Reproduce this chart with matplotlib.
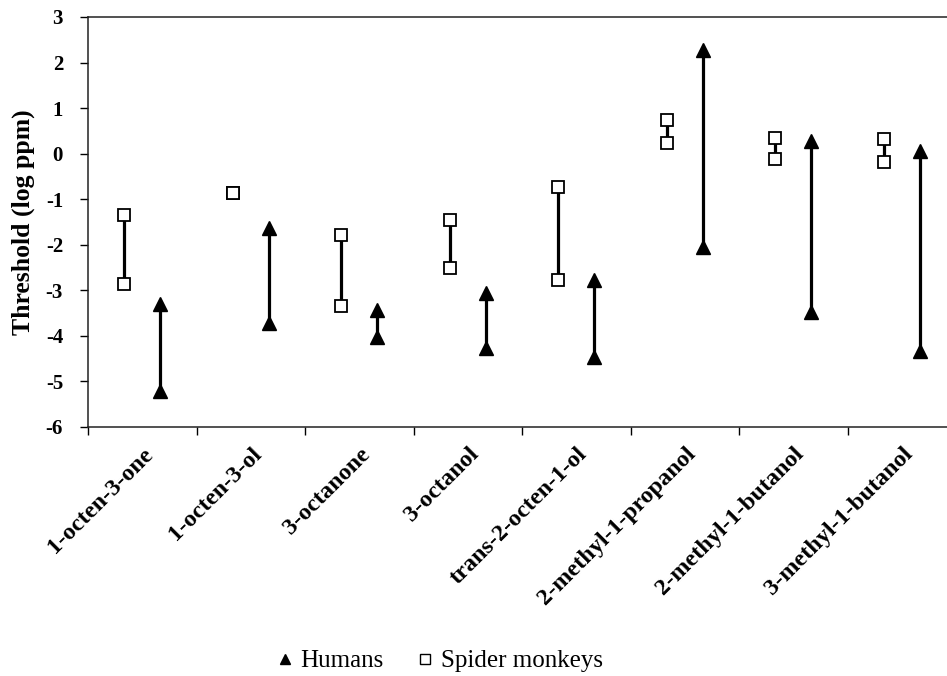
import matplotlib
matplotlib.use("Agg")
import matplotlib.pyplot as plt
from matplotlib.lines import Line2D

categories = ["1-octen-3-one", "1-octen-3-ol", "3-octanone", "3-octanol",
              "trans-2-octen-1-ol", "2-methyl-1-propanol", "2-methyl-1-butanol",
              "3-methyl-1-butanol"]
monkey_low = [-2.86, -0.87, -3.35, -2.51, -2.77, 0.23, -0.11, -0.19]
monkey_high = [-1.34, -0.87, -1.78, -1.46, -0.73, 0.74, 0.35, 0.32]
human_low = [-5.2, -3.71, -4.02, -4.26, -4.46, -2.04, -3.47, -4.33]
human_high = [-3.3, -1.63, -3.43, -3.05, -2.77, 2.28, 0.28, 0.05]
yticks = [-6, -5, -4, -3, -2, -1, 0, 1, 2, 3]

plt.rcParams['font.family'] = ['Liberation Serif', 'DejaVu Serif']

fig = plt.figure(figsize=(9.47, 6.76), dpi=100)
ax = fig.add_axes([88/947, 1-427/676, 1-88/947, (427-17)/676])

for i in range(len(categories)):
    xm = i + 1/3
    xh = i + 2/3
    ax.plot([xm, xm], [monkey_low[i], monkey_high[i]], color='black', lw=2.3, zorder=1)
    ax.plot([xm, xm], [monkey_low[i], monkey_high[i]], ls='none', marker='s', ms=8.5,
            mfc='white', mec='black', mew=1.3, zorder=3)
    ax.plot([xh, xh], [human_low[i], human_high[i]], color='black', lw=2.3, zorder=1)
    ax.plot([xh, xh], [human_low[i], human_high[i]], ls='none', marker='^', ms=10,
            mfc='black', mec='black', zorder=3)

ax.set_xlim(0, (947-88)/108.5)
ax.set_ylim(-6, 3)
ax.set_yticks(yticks)
ax.set_yticklabels([str(v) for v in yticks], fontsize=15, fontweight='bold')
ax.set_xticks(range(len(categories)))
ax.set_xticklabels([])
ax.set_xticks([i + 0.5 for i in range(len(categories))], minor=True)
ax.set_xticklabels(categories, minor=True, rotation=45, ha='right',
                   rotation_mode='anchor', fontsize=17.5, fontweight='bold')
ax.tick_params(axis='x', which='minor', length=0, pad=12)
ax.tick_params(axis='x', which='major', length=6, width=1, direction='out')
ax.tick_params(axis='y', length=6, width=1, direction='out', pad=12)
ax.set_ylabel("Threshold (log ppm)", fontsize=18.5, fontweight='bold', labelpad=8)
ax.spines['right'].set_visible(False)
for s in ['left', 'top', 'bottom']:
    ax.spines[s].set_linewidth(1.1)
    ax.spines[s].set_color('#222222')

handles = [Line2D([], [], ls='none', marker='^', ms=7.5, mfc='black', mec='black'),
           Line2D([], [], ls='none', marker='s', ms=7.5, mfc='white', mec='black', mew=1)]
fig.legend(handles, ["Humans", "Spider monkeys"], loc='center', ncol=2,
           bbox_to_anchor=(441/947, 1-661/676), frameon=False, fontsize=18,
           handlelength=0.45, handletextpad=0.4, columnspacing=1.45,
           borderpad=0, borderaxespad=0)

fig.savefig("out.png", dpi=100)
